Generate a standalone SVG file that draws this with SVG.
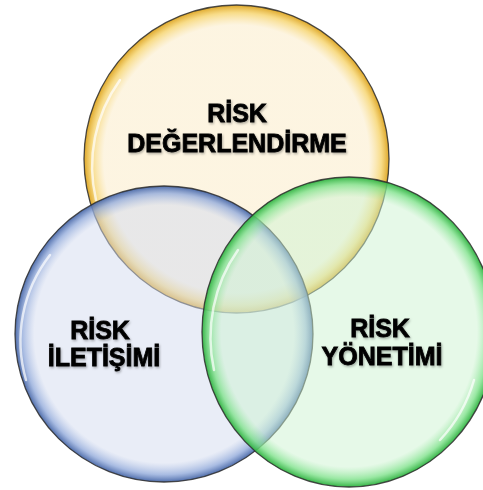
<svg xmlns="http://www.w3.org/2000/svg" width="483" height="490" viewBox="0 0 483 490">
<defs>
<radialGradient id="gY" cx="0.5" cy="0.5" r="0.5">
<stop offset="0" stop-color="#fbecc9" stop-opacity="0.55"/>
<stop offset="0.87" stop-color="#fbecc9" stop-opacity="0.55"/>
<stop offset="0.95" stop-color="#f6d36a" stop-opacity="0.8"/>
<stop offset="1" stop-color="#dca21c" stop-opacity="0.95"/>
</radialGradient>
<radialGradient id="gB" cx="0.5" cy="0.5" r="0.5">
<stop offset="0" stop-color="#d3dbef" stop-opacity="0.5"/>
<stop offset="0.87" stop-color="#d3dbef" stop-opacity="0.5"/>
<stop offset="0.95" stop-color="#93abdb" stop-opacity="0.8"/>
<stop offset="1" stop-color="#4565a6" stop-opacity="0.95"/>
</radialGradient>
<radialGradient id="gG" cx="0.5" cy="0.5" r="0.5">
<stop offset="0" stop-color="#cdf3d1" stop-opacity="0.5"/>
<stop offset="0.87" stop-color="#cdf3d1" stop-opacity="0.5"/>
<stop offset="0.95" stop-color="#80e28c" stop-opacity="0.8"/>
<stop offset="1" stop-color="#2cb13e" stop-opacity="0.95"/>
</radialGradient>
<filter id="sh" x="-10%" y="-20%" width="120%" height="150%">
<feDropShadow dx="1" dy="1.5" stdDeviation="1" flood-color="#000" flood-opacity="0.3"/>
</filter>
</defs>
<style>
.c{stroke:#2b2b2b;stroke-width:1.3;stroke-opacity:0.85}
.hl{fill:none;stroke:#ffffff;stroke-width:2.5;stroke-opacity:0.7;stroke-linecap:round}
.t{font-family:"Liberation Sans",Arial,sans-serif;font-weight:bold;font-size:25px;fill:#000;stroke:#000;stroke-width:0.8;text-anchor:middle;filter:url(#sh)}
</style>
<rect width="483" height="490" fill="#ffffff"/>
<g id="risk-degerlendirme">
<ellipse class="c" cx="236.5" cy="159" rx="152.5" ry="154" fill="url(#gY)"/>
<path class="hl" d="M 96 200 A 144 146 0 0 1 120 80"/>
</g>
<g id="risk-iletisimi">
<ellipse class="c" cx="164" cy="334" rx="149" ry="148" fill="url(#gB)"/>
<path class="hl" d="M 26 380 A 140 140 0 0 1 50 255"/>
</g>
<g id="risk-yonetimi">
<ellipse class="c" cx="349" cy="332" rx="147" ry="155" fill="url(#gG)"/>
<path class="hl" d="M 214 370 A 138 146 0 0 1 238 250"/>
<path class="hl" d="M 474 380 A 138 146 0 0 1 440 440"/>
</g>
<g id="labels">
<text class="t" x="237" y="122">RİSK</text>
<text class="t" x="237" y="152">DEĞERLENDİRME</text>
<text class="t" x="100" y="339">RİSK</text>
<text class="t" x="104" y="366">İLETİŞİMİ</text>
<text class="t" x="380" y="337">RİSK</text>
<text class="t" x="382" y="365">YÖNETİMİ</text>
</g>
<g id="connectors"/>
</svg>
